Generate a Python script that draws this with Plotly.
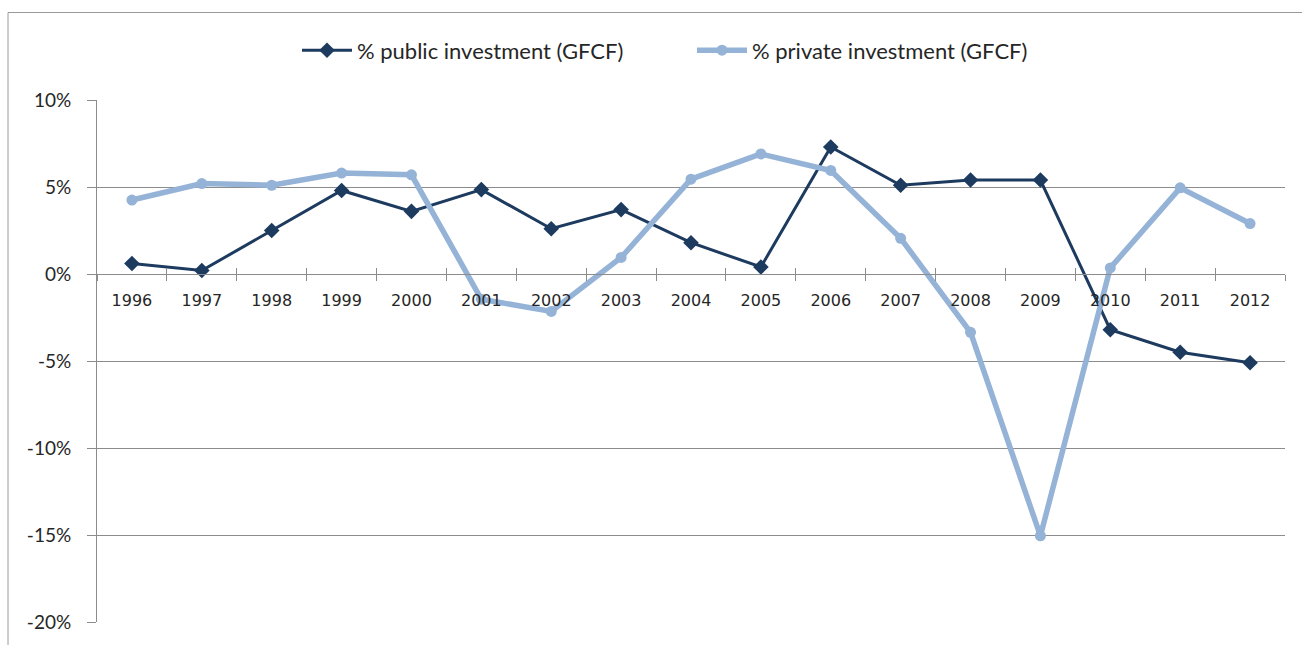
import plotly.graph_objects as go

years = ["1996", "1997", "1998", "1999", "2000", "2001", "2002", "2003", "2004",
         "2005", "2006", "2007", "2008", "2009", "2010", "2011", "2012"]
public_inv = [0.6, 0.2, 2.5, 4.8, 3.6, 4.85, 2.6, 3.7, 1.8,
              0.4, 7.3, 5.1, 5.4, 5.4, -3.2, -4.5, -5.1]
private_inv = [4.25, 5.2, 5.1, 5.8, 5.7, -1.45, -2.15, 0.95, 5.45,
               6.9, 5.95, 2.05, -3.35, -15.05, 0.35, 4.95, 2.9]
y_ticks = [-20, -15, -10, -5, 0, 5, 10]
y_tick_text = ["-20%", "-15%", "-10%", "-5%", "0%", "5%", "10%"]

DARK = "#1d3a5f"
LIGHT = "#95b3d7"
GRID = "#8c8c8c"
TEXT = "#262626"
FONT = "Lato, 'Open Sans', sans-serif"
XFONT = "'DejaVu Sans', sans-serif"

fig = go.Figure()
fig.add_trace(go.Scatter(
    x=years, y=public_inv, name="% public investment (GFCF)",
    mode="lines+markers",
    line=dict(color=DARK, width=3),
    marker=dict(symbol="diamond", size=12, color=DARK),
))
fig.add_trace(go.Scatter(
    x=years, y=private_inv, name="% private investment (GFCF)",
    mode="lines+markers",
    line=dict(color=LIGHT, width=5.5),
    marker=dict(symbol="circle", size=11, color=LIGHT),
))
# invisible copy on a twin axis that draws the upward half of the cross ticks
fig.add_trace(go.Scatter(
    x=years, y=public_inv, xaxis="x2", yaxis="y",
    mode="lines", line=dict(width=0), opacity=0,
    showlegend=False, hoverinfo="skip",
))

# outer frame lines (top and left edges of the chart area)
fig.add_shape(type="line", xref="paper", yref="paper",
              x0=-0.0749, x1=1.02, y0=1.1676, y1=1.1676,
              line=dict(color="#9a9a9a", width=1))
fig.add_shape(type="line", xref="paper", yref="paper",
              x0=-0.0749, x1=-0.0749, y0=-0.05, y1=1.1676,
              line=dict(color="#9a9a9a", width=1))

common_x = dict(type="category", anchor="free", position=20 / 30,
                tickson="boundaries", ticklen=6, tickcolor=GRID,
                showgrid=False, zeroline=False,
                range=[-0.5, 16.5], fixedrange=True)

fig.update_layout(
    width=1302, height=645,
    margin=dict(l=97, r=17, t=100, b=20),
    paper_bgcolor="white", plot_bgcolor="white",
    font=dict(family=FONT, color=TEXT),
    showlegend=True,
    legend=dict(orientation="h", x=(297 - 97) / 1188, xanchor="left",
                y=1.095, yanchor="middle",
                font=dict(size=22, family=FONT, color=TEXT),
                itemwidth=50, entrywidth=330, entrywidthmode="pixels",
                traceorder="normal"),
    xaxis=dict(
        **common_x,
        showline=True, linecolor=GRID, linewidth=1,
        ticks="outside",
        tickfont=dict(size=16, family=XFONT, color=TEXT),
        ticklabelstandoff=12,
    ),
    xaxis2=dict(
        **common_x,
        overlaying="x", showline=False, ticks="inside",
        showticklabels=False,
    ),
    yaxis=dict(
        range=[-20, 10], tickvals=y_ticks, ticktext=y_tick_text,
        showline=True, linecolor=GRID, linewidth=1,
        ticks="outside", ticklen=9, tickcolor=GRID,
        showgrid=True, gridcolor=GRID, gridwidth=1, zeroline=False,
        tickfont=dict(size=19, family=FONT, color=TEXT),
        ticklabelstandoff=12,
    ),
)

fig.write_html("out.html")
